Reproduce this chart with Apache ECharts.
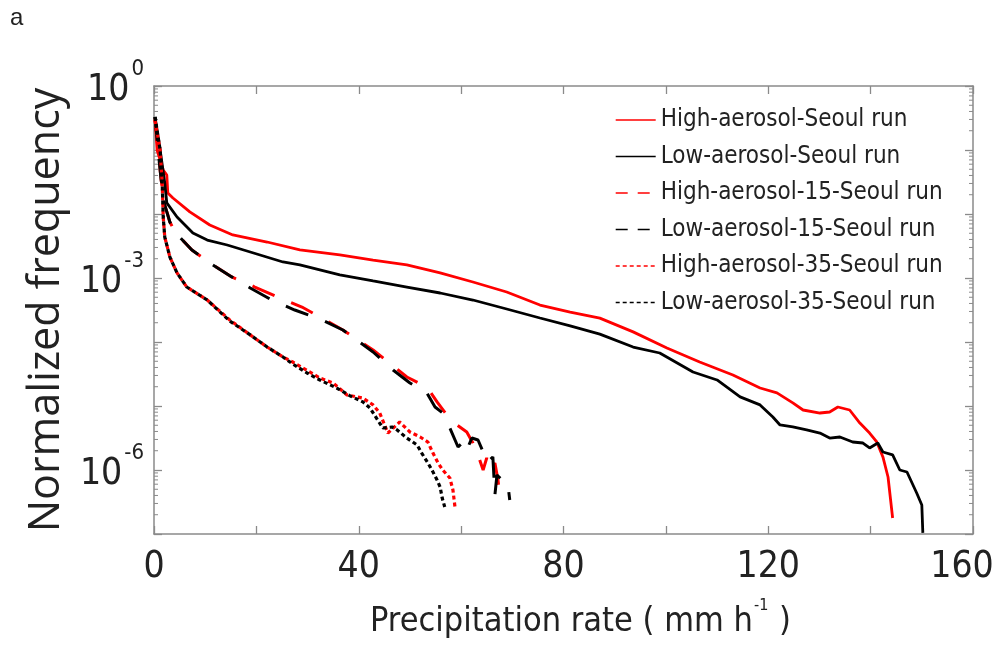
<!DOCTYPE html>
<html>
<head>
<meta charset="utf-8">
<script src="https://cdn.jsdelivr.net/npm/echarts@6/dist/echarts.min.js"></script>
<style>html,body{margin:0;padding:0;background:#fff}#c{width:1000px;height:650px}</style>
</head>
<body>
<div id="c"></div>
<script>
// ---- data ----
const hiSeoulX = [0.2,0.6,1.8,2.5,2.7,3.7,7.0,10.9,15.4,22.1,28.5,36.3,42.8,49.4,55.9,62.3,68.9,75.4,81.3,87.1,93.6,100.2,106.6,113.1,118.4,121.7,124.8,126.8,130.1,132.0,133.6,135.9,137.9,139.8,141.2,142.4,143.4,144.3];
const hiSeoulY = [0.316,0.1,0.0487,0.0407,0.0213,0.0178,0.0108,0.00673,0.0047,0.00365,0.00274,0.00229,0.00191,0.0016,0.0012,8.66e-4,6.04e-4,3.78e-4,2.94e-4,2.36e-4,1.44e-4,8.06e-5,4.87e-5,3.05e-5,1.91e-5,1.6e-5,1.12e-5,8.66e-6,7.77e-6,8.06e-6,9.65e-6,8.66e-6,5.42e-6,3.78e-6,2.74e-6,1.6e-6,7.77e-7,1.78e-7];

const loSeoulX = [0.2,1.2,2.1,2.5,4.5,7.6,10.4,14.3,18.8,25.2,28.5,36.3,42.8,49.4,55.9,62.3,68.9,75.4,81.3,87.1,93.6,98.8,105.3,110.0,114.5,118.4,120.9,122.3,124.8,127.5,130.1,132.0,134.0,136.5,138.5,139.8,141.4,142.4,144.3,145.7,147.1,149.0,150.0,150.2];
const loSeoulY = [0.328,0.1,0.0305,0.0149,0.00898,0.00505,0.00392,0.00328,0.00255,0.00178,0.0016,0.00112,8.98e-4,7.23e-4,5.83e-4,4.53e-4,3.28e-4,2.37e-4,1.78e-4,1.33e-4,8.35e-5,6.73e-5,3.4e-5,2.55e-5,1.39e-5,1.04e-5,6.73e-6,5.05e-6,4.7e-6,4.22e-6,3.78e-6,3.16e-6,3.28e-6,2.74e-6,2.64e-6,2.21e-6,2.64e-6,1.91e-6,1.72e-6,1.0e-6,9.31e-7,4.37e-7,2.84e-7,1.04e-7];

const hi15X = [0.2,0.8,1.4,2.1,3.1,4.1,7.4,10.9,15.2,19.7,24.2,28.9,32.8,36.9,42.8,46.5,49.4,53.3,55.3,57.2,59.2,61.1,62.3,63.3,64.3,65.0,66.0,66.6,67.2,67.6];
const hi15Y = [0.294,0.1,0.034,0.0139,0.0075,0.00523,0.00274,0.00172,0.00104,7.23e-4,5.05e-4,3.52e-4,2.37e-4,1.54e-4,7.5e-5,4.37e-5,2.84e-5,1.98e-5,1.16e-5,7.23e-6,5.05e-6,3.92e-6,2.64e-6,1.72e-6,1.0e-6,1.54e-6,1.0e-6,1.29e-6,6.98e-7,3.65e-7];

const lo15X = [0.2,0.8,1.4,2.1,3.1,4.1,7.4,10.9,15.2,18.8,23.0,27.5,32.8,36.9,42.8,46.7,50.0,53.3,54.9,56.4,57.8,59.4,60.4,61.1,62.1,63.3,64.3,65.2,66.2,66.6,67.0,68.0,69.1,69.5];
const lo15Y = [0.328,0.1,0.034,0.0139,0.0075,0.00523,0.00274,0.00172,0.00104,6.98e-4,4.53e-4,3.16e-4,2.21e-4,1.54e-4,6.98e-5,3.65e-5,2.29e-5,1.6e-5,9.65e-6,7.77e-6,4.53e-6,2.29e-6,2.74e-6,2.05e-6,3.16e-6,2.94e-6,1.91e-6,1.33e-6,1.6e-6,4.07e-7,8.35e-7,6.98e-7,6.26e-7,3.4e-7];

const hi35X = [0.2,1.2,1.6,1.8,2.1,3.1,4.5,6.4,10.4,14.8,18.8,22.1,25.2,27.1,29.1,32.4,35.0,37.7,40.8,42.8,44.1,45.7,48.0,50.0,52.0,53.5,54.5,55.5,56.4,57.8,58.4,58.8];
const hi35Y = [0.294,0.1,0.0305,0.00898,0.00437,0.00213,0.0012,7.23e-4,4.53e-4,2.21e-4,1.29e-4,8.35e-5,5.83e-5,4.87e-5,3.92e-5,2.74e-5,2.29e-5,1.49e-5,1.33e-5,1.04e-5,7.77e-6,3.78e-6,5.62e-6,3.92e-6,3.28e-6,2.74e-6,1.84e-6,1.29e-6,1.0e-6,7.5e-7,4.87e-7,2.64e-7];

const lo35X = [0.2,1.2,1.6,1.8,2.1,3.1,4.5,6.4,10.4,14.8,18.8,22.1,25.2,27.1,29.9,32.4,35.7,38.3,40.8,42.2,44.7,46.5,47.5,49.4,51.4,52.3,53.5,54.3,55.3,55.9,56.3,56.8];
const lo35Y = [0.328,0.1,0.0305,0.00898,0.00437,0.00213,0.0012,7.23e-4,4.53e-4,2.13e-4,1.29e-4,8.35e-5,5.83e-5,4.53e-5,3.28e-5,2.55e-5,1.91e-5,1.44e-5,1.16e-5,9.31e-6,4.53e-6,4.7e-6,4.22e-6,3.16e-6,2.46e-6,1.84e-6,1.29e-6,1.0e-6,6.98e-7,5.42e-7,3.65e-7,2.64e-7];

const seriesNames = ['High-aerosol-Seoul run','Low-aerosol-Seoul run','High-aerosol-15-Seoul run','Low-aerosol-15-Seoul run','High-aerosol-35-Seoul run','Low-aerosol-35-Seoul run'];
const xTickLabels = [0, 40, 80, 120, 160];
const yTickLabelExps = [0, -3, -6];

// ---- chart ----
const NARROW = "'Liberation Sans Narrow','DejaVu Sans Condensed','Arial Narrow',sans-serif";
const RED = '#ff0000', BLACK = '#000000', AXIS = '#8a8a8a';
const zip = (xs, ys) => xs.map((x, i) => [x, ys[i]]);

const styles = [
  {color: RED, type: 'solid', width: 2.8, legendType: 'solid'},
  {color: BLACK, type: 'solid', width: 2.8, legendType: 'solid'},
  {color: RED, type: [24, 18], width: 3, legendType: [12, 10]},
  {color: BLACK, type: [24, 18], width: 3, legendType: [12, 10]},
  {color: RED, type: [4, 3], width: 3.2, legendType: [4, 3]},
  {color: BLACK, type: [4, 3], width: 3.2, legendType: [4, 3]}
];
const datasets = [zip(hiSeoulX, hiSeoulY), zip(loSeoulX, loSeoulY), zip(hi15X, hi15Y), zip(lo15X, lo15Y), zip(hi35X, hi35Y), zip(lo35X, lo35Y)];

// minor tick positions on the log axis (2..9 x 10^k)
const minorTicks = [];
for (let k = -7; k <= -1; k++) for (let m = 2; m <= 9; m++) minorTicks.push([0, m * Math.pow(10, k)]);

const chart = echarts.init(document.getElementById('c'), null, {renderer: 'canvas'});
const lineSeries = datasets.map((d, i) => ({
  name: seriesNames[i], type: 'line', data: d, showSymbol: false, symbol: 'none',
  lineStyle: {color: styles[i].color, width: styles[i].width, type: styles[i].type},
  itemStyle: {color: styles[i].color}, animation: false, z: 3
}));

const yLabelRich = {
  b: {fontSize: 37, fontFamily: NARROW, color: '#222', lineHeight: 37, padding: [26, 0, 0, 0]},
  s: {fontSize: 22, fontFamily: NARROW, color: '#222', lineHeight: 22, verticalAlign: 'top', padding: [0, 0, 0, 2]}
};
const xLabelRich = {
  n: {fontSize: 37, fontFamily: NARROW, color: '#222'},
  r: {fontSize: 37, fontFamily: NARROW, color: '#222', padding: [0, 22, 0, 0]}
};

chart.setOption({
  animation: false,
  backgroundColor: '#fff',
  grid: {left: 154, top: 86, right: 27, bottom: 116, containLabel: false, outerBoundsMode: 'none'},
  graphic: [{type: 'text', left: 10, top: 6, style: {text: 'a', fontSize: 24, fontFamily: "'Liberation Sans',sans-serif", fill: '#222'}}],
  legend: {
    orient: 'vertical', left: 610, top: 100, itemWidth: 40, itemHeight: 14, itemGap: 6.5,
    textStyle: {fontSize: 24, fontFamily: NARROW, color: '#222', lineHeight: 30},
    data: seriesNames.map((n, i) => ({name: n, itemStyle: {opacity: 0}, lineStyle: {width: 1.4, type: styles[i].legendType, color: styles[i].color}})),
    selectedMode: false
  },
  xAxis: [{
    type: 'value', min: 0, max: 160, interval: 20,
    name: '{m|Precipitation rate ( mm h}{s|-1}{e| )}', nameLocation: 'middle', nameGap: 52,
    nameTextStyle: {fontSize: 34, fontFamily: NARROW, color: '#222',
      rich: {
        m: {fontSize: 34, fontFamily: NARROW, color: '#222', lineHeight: 34, padding: [14, 0, 0, 34]},
        e: {fontSize: 34, fontFamily: NARROW, color: '#222', lineHeight: 34, padding: [14, 0, 0, 0]},
        s: {fontSize: 16, fontFamily: NARROW, color: '#222', lineHeight: 16, verticalAlign: 'top', padding: [0, 1, 0, 1]}
      }},
    axisLine: {show: true, onZero: false, lineStyle: {color: AXIS, width: 1.5}},
    axisTick: {show: true, inside: true, length: 8, lineStyle: {color: AXIS, width: 1.3}},
    axisLabel: {margin: 15, rich: xLabelRich,
      formatter: v => xTickLabels.includes(v) ? (v === 160 ? '{r|' + v + '}' : '{n|' + v + '}') : ''},
    splitLine: {show: false}
  }, {
    type: 'value', min: 0, max: 160, interval: 20, position: 'top',
    axisLine: {show: true, onZero: false, lineStyle: {color: AXIS, width: 1.5}},
    axisTick: {show: true, inside: true, length: 8, lineStyle: {color: AXIS, width: 1.3}},
    axisLabel: {show: false}, splitLine: {show: false}
  }],
  yAxis: [{
    type: 'log', logBase: 10, min: 1e-7, max: 1, interval: 1,
    name: 'Normalized frequency', nameLocation: 'middle', nameGap: 86,
    nameTextStyle: {fontSize: 43, fontFamily: "'Open Sans','DejaVu Sans',sans-serif", color: '#222'},
    axisLine: {show: true, onZero: false, lineStyle: {color: AXIS, width: 1.5}},
    axisTick: {show: true, inside: true, length: 8, lineStyle: {color: AXIS, width: 1.3}},
    axisLabel: {margin: 10, padding: [0, 0, 18, 0], rich: yLabelRich,
      formatter: v => { const e = Math.round(Math.log10(v)); return yTickLabelExps.includes(e) ? '{b|10}{s|' + e + '}' : ''; }},
    splitLine: {show: false}
  }, {
    type: 'log', logBase: 10, min: 1e-7, max: 1, interval: 1, position: 'right',
    axisLine: {show: true, onZero: false, lineStyle: {color: AXIS, width: 1.5}},
    axisTick: {show: true, inside: true, length: 8, lineStyle: {color: AXIS, width: 1.3}},
    axisLabel: {show: false}, splitLine: {show: false}
  }],
  series: [{
    type: 'custom', silent: true, data: minorTicks, z: 1, clip: false,
    renderItem: (params, api) => {
      const cs = params.coordSys;
      const y = api.coord([0, api.value(1)])[1];
      const L = cs.x, R = cs.x + cs.width;
      return {type: 'group', children: [
        {type: 'line', shape: {x1: L, y1: y, x2: L + 4, y2: y}, style: {stroke: AXIS, lineWidth: 1}},
        {type: 'line', shape: {x1: R - 4, y1: y, x2: R, y2: y}, style: {stroke: AXIS, lineWidth: 1}}
      ]};
    }
  }].concat(lineSeries)
});
</script>
</body>
</html>
